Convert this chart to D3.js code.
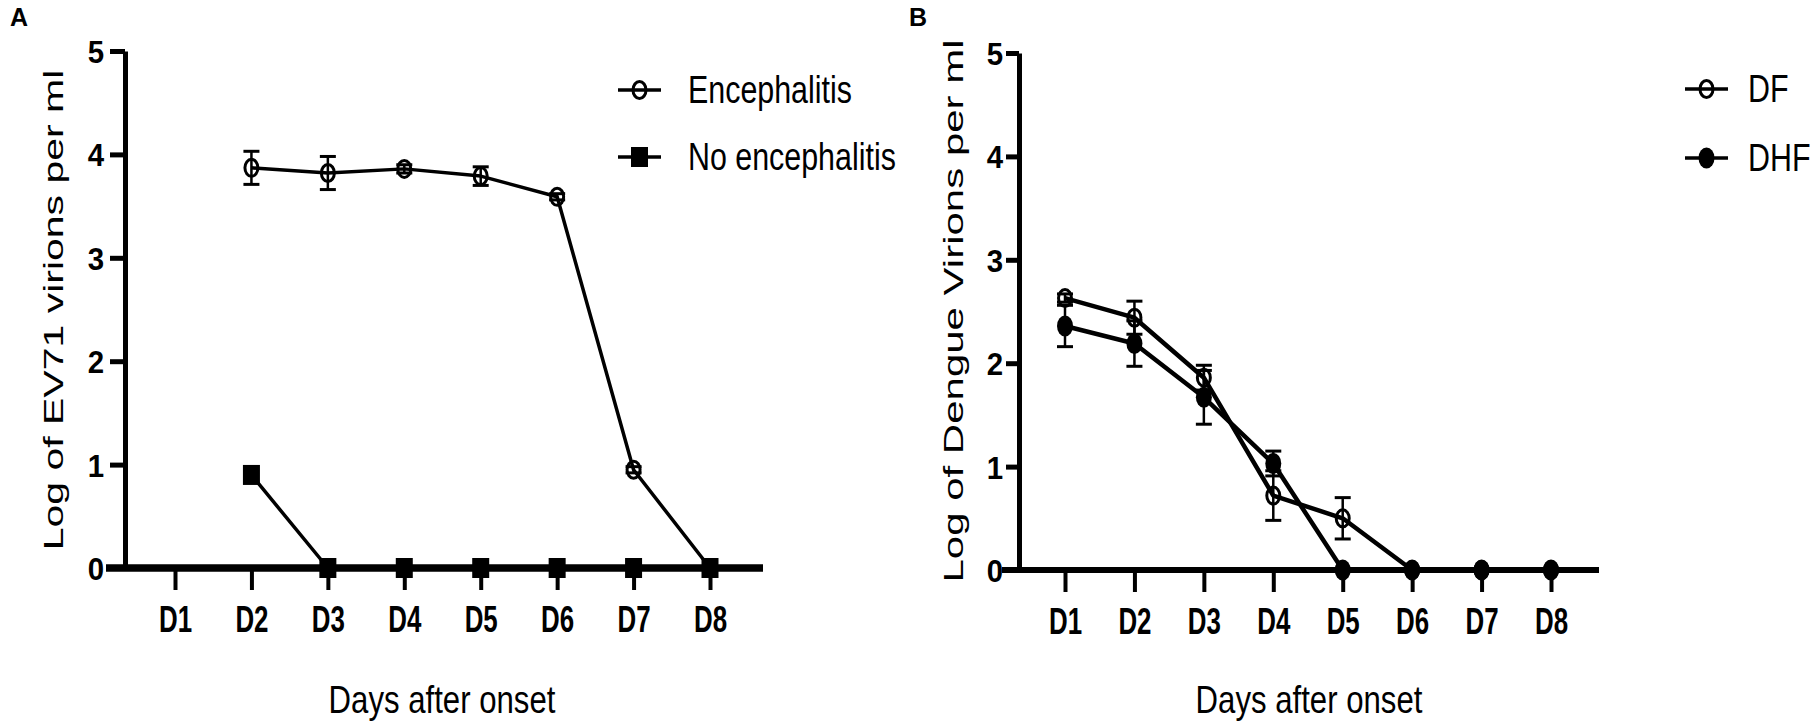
<!DOCTYPE html>
<html>
<head>
<meta charset="utf-8">
<script src="https://cdn.jsdelivr.net/npm/d3@7"></script>
<style>
  html, body { margin: 0; padding: 0; background: #fff; }
  svg { display: block; }
  text { font-family: "Liberation Sans", Arial, sans-serif; fill: #000; }
</style>
</head>
<body>
<svg id="chart" width="1814" height="725"></svg>
<script>
// ---------- data ----------
const days = ["D1", "D2", "D3", "D4", "D5", "D6", "D7", "D8"];
const yTickValues = [0, 1, 2, 3, 4, 5];

// Panel A
const encDays = ["D2", "D3", "D4", "D5", "D6", "D7", "D8"];
const encMean = [3.87, 3.82, 3.86, 3.79, 3.59, 0.95, 0];
const encErr  = [0.16, 0.16, 0.04, 0.09, 0.03, 0.03, 0];
const noEncDays = ["D2", "D3", "D4", "D5", "D6", "D7", "D8"];
const noEncMean = [0.90, 0, 0, 0, 0, 0, 0];
const noEncErr  = [0, 0, 0, 0, 0, 0, 0];

// Panel B
const dfDays = ["D1", "D2", "D3", "D4", "D5", "D6", "D7", "D8"];
const dfMean = [2.63, 2.44, 1.86, 0.72, 0.50, 0, 0, 0];
const dfErr  = [0.04, 0.16, 0.12, 0.24, 0.20, 0, 0, 0];
const dhfDays = ["D1", "D2", "D3", "D4", "D5", "D6", "D7", "D8"];
const dhfMean = [2.36, 2.19, 1.67, 1.03, 0, 0, 0, 0];
const dhfErr  = [0.20, 0.22, 0.26, 0.12, 0, 0, 0, 0];

const seriesA = [
  { name: "No encephalitis", days: noEncDays, mean: noEncMean, err: noEncErr, marker: "square" },
  { name: "Encephalitis", days: encDays, mean: encMean, err: encErr, marker: "open" }
];
const seriesB = [
  { name: "DF", days: dfDays, mean: dfMean, err: dfErr, marker: "open" },
  { name: "DHF", days: dhfDays, mean: dhfMean, err: dhfErr, marker: "filled" }
];
const legendA = [seriesA[1], seriesA[0]];
const legendB = [seriesB[0], seriesB[1]];

const svg = d3.select("#chart");

function panel(cfg) {
  const g = svg.append("g");
  const x = d3.scalePoint().domain(days).range(cfg.xRange);
  const y = d3.scaleLinear().domain([0, 5]).range(cfg.yRange);
  const x0 = cfg.axisX;

  // panel letter
  g.append("text").attr("x", cfg.letterX).attr("y", 26)
    .attr("font-size", 25).attr("font-weight", "bold").text(cfg.letter);

  // y axis
  const ya = g.append("g").attr("transform", `translate(${x0},0)`)
    .call(d3.axisLeft(y).tickValues(yTickValues).tickFormat(d3.format("d"))
      .tickSize(cfg.yTick).tickSizeOuter(0));
  ya.select(".domain").attr("stroke", "#000").attr("stroke-width", cfg.yAxisW);
  ya.selectAll(".tick line").attr("stroke", "#000").attr("stroke-width", 5);
  ya.selectAll(".tick text")
    .attr("font-size", 32).attr("font-weight", "bold")
    .attr("font-family", "Liberation Sans, Arial, sans-serif")
    .attr("dy", "0.36em")
    .attr("x", null)
    .attr("transform", `translate(${-cfg.yTick - cfg.yLabelGap},0) scale(0.92,1)`)
    .attr("text-anchor", "end");

  // x axis
  const xa = g.append("g").attr("transform", `translate(0,${y(0)})`)
    .call(d3.axisBottom(x).tickSize(22).tickSizeOuter(0));
  xa.select(".domain").remove();
  xa.selectAll(".tick line").attr("stroke", "#000").attr("stroke-width", 4);
  xa.selectAll(".tick text")
    .attr("font-size", 37).attr("font-weight", "bold")
    .attr("font-family", "Liberation Sans, Arial, sans-serif")
    .attr("y", null).attr("dy", null)
    .attr("transform", `translate(0,64) scale(0.7,1)`);
  g.append("line")
    .attr("x1", x0 - cfg.xAxisLeft).attr("x2", x(days[days.length - 1]) + cfg.xAxisRight)
    .attr("y1", y(0)).attr("y2", y(0))
    .attr("stroke", "#000").attr("stroke-width", cfg.xAxisW);

  // axis titles
  g.append("text")
    .attr("transform", `translate(${cfg.yTitleX},${cfg.yTitleY}) scale(0.66,1) rotate(-90)`)
    .attr("text-anchor", "middle").attr("font-size", cfg.yTitleSize).text(cfg.yTitle);
  g.append("text")
    .attr("transform", `translate(${cfg.xTitleX},713) scale(0.82,1)`)
    .attr("text-anchor", "middle").attr("font-size", 38).text("Days after onset");

  // series
  const line = d3.line().x(d => x(d.day)).y(d => y(d.v));
  cfg.series.forEach(s => {
    const pts = s.days.map((d, i) => ({ day: d, v: s.mean[i], e: s.err[i] }));
    g.append("path").datum(pts).attr("d", line)
      .attr("fill", "none").attr("stroke", "#000").attr("stroke-width", cfg.lineW)
      .attr("stroke-linejoin", "round");
  });
  cfg.series.forEach(s => {
    const pts = s.days.map((d, i) => ({ day: d, v: s.mean[i], e: s.err[i] }));
    const eb = g.append("g");
    pts.filter(p => p.e > 0).forEach(p => {
      const cx = x(p.day);
      eb.append("line").attr("x1", cx).attr("x2", cx)
        .attr("y1", y(p.v - p.e)).attr("y2", y(p.v + p.e))
        .attr("stroke", "#000").attr("stroke-width", 2.5);
      [p.v - p.e, p.v + p.e].forEach(v => {
        eb.append("line").attr("x1", cx - 8).attr("x2", cx + 8)
          .attr("y1", y(v)).attr("y2", y(v))
          .attr("stroke", "#000").attr("stroke-width", 3);
      });
    });
    pts.forEach(p => drawMarker(g, s.marker, x(p.day), y(p.v)));
  });

  // legend
  cfg.legend.forEach((s, i) => {
    const ly = cfg.legY + i * cfg.legStep;
    g.append("line").attr("x1", cfg.legX).attr("x2", cfg.legX + 43)
      .attr("y1", ly).attr("y2", ly).attr("stroke", "#000").attr("stroke-width", 3.5);
    drawMarker(g, s.marker, cfg.legX + 21.5, ly);
    g.append("text")
      .attr("transform", `translate(${cfg.legTextX},${ly + 13}) scale(0.8,1)`)
      .attr("font-size", 38).text(s.name);
  });
}

function drawMarker(g, type, cx, cy) {
  if (type === "open") {
    g.append("ellipse").attr("cx", cx).attr("cy", cy).attr("rx", 6.5).attr("ry", 8.5)
      .attr("fill", "none").attr("stroke", "#000").attr("stroke-width", 3);
  } else if (type === "filled") {
    g.append("ellipse").attr("cx", cx).attr("cy", cy).attr("rx", 8).attr("ry", 10.5)
      .attr("fill", "#000");
  } else {
    g.append("rect").attr("x", cx - 8.5).attr("y", cy - 10).attr("width", 17).attr("height", 20)
      .attr("fill", "#000");
  }
}

panel({
  letter: "A", letterX: 10,
  xRange: [175, 710], yRange: [568, 51], axisX: 125,
  yTick: 15, yLabelGap: 6, yAxisW: 5, xAxisW: 7.5, xAxisLeft: 19, xAxisRight: 53,
  yTitle: "Log of EV71 virions per ml", yTitleX: 63, yTitleY: 310, yTitleSize: 41,
  xTitleX: 442, lineW: 3.5,
  series: seriesA, legend: legendA, legX: 618, legTextX: 688, legY: 90, legStep: 67
});

panel({
  letter: "B", letterX: 909,
  xRange: [1065, 1551], yRange: [570, 53], axisX: 1019,
  yTick: 13, yLabelGap: 3, yAxisW: 5, xAxisW: 6, xAxisLeft: 17, xAxisRight: 48,
  yTitle: "Log of Dengue Virions per ml", yTitleX: 963, yTitleY: 311, yTitleSize: 42,
  xTitleX: 1309, lineW: 4.5,
  series: seriesB, legend: legendB, legX: 1685, legTextX: 1748, legY: 89, legStep: 69
});
</script>
</body>
</html>
